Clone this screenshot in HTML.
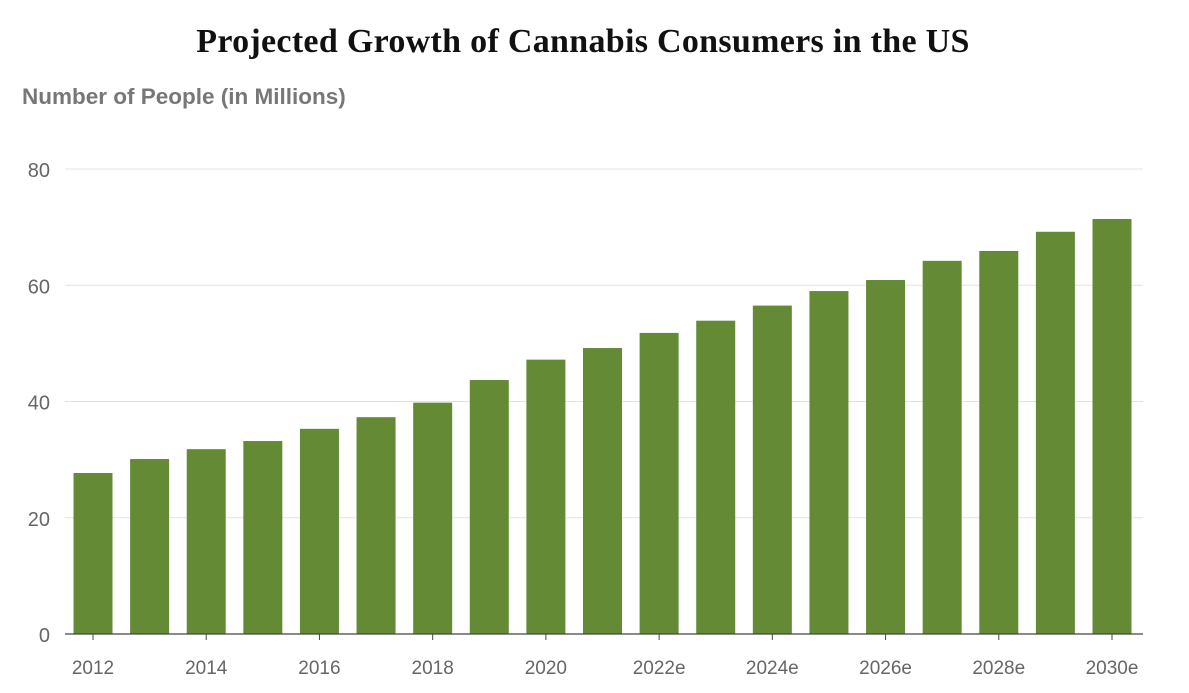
<!DOCTYPE html>
<html><head><meta charset="utf-8"><style>
body{margin:0;background:#fff;width:1189px;height:693px;overflow:hidden}
svg{display:block}
</style></head><body>
<svg id="chart" width="1189" height="693">
<text x="583" y="52" text-anchor="middle" font-family="Liberation Serif, serif" font-weight="bold" font-size="34" letter-spacing="0.3" fill="#111">Projected Growth of Cannabis Consumers in the US</text>
<text x="22" y="104" font-family="Liberation Sans, sans-serif" font-weight="bold" font-size="22.5" fill="#777">Number of People (in Millions)</text>
<g id="grid"></g><g id="bars"></g><g id="xaxis"></g>
</svg>
<script>
const categories=["2012","2013","2014","2015","2016","2017","2018","2019","2020","2021","2022e","2023e","2024e","2025e","2026e","2027e","2028e","2029e","2030e"];
const values=[27.7,30.1,31.8,33.2,35.3,37.3,39.8,43.7,47.2,49.2,51.8,53.9,56.5,59.0,60.9,64.2,65.9,69.2,71.4];
const yTicks=[0,20,40,60,80];
const xLabelEvery=2;
const ns="http://www.w3.org/2000/svg";
const y0=634,y80=169,x0=93,step=(1112-93)/18,bw=39;
const y=v=>y0-(y0-y80)*v/80;
const x=i=>x0+i*step;
function mk(t,a,p){const e=document.createElementNS(ns,t);for(const k in a)e.setAttribute(k,a[k]);p.appendChild(e);return e;}
const grid=document.getElementById('grid'),bars=document.getElementById('bars'),xa=document.getElementById('xaxis');
yTicks.forEach(v=>{
 if(v>0){const l=mk('line',{x1:65,x2:1143,y1:y(v),y2:y(v),stroke:'#e3e3e3','stroke-width':1},grid);
 
 }
 const t=mk('text',{x:50,y:y(v)+8,'text-anchor':'end','font-family':'Liberation Sans, sans-serif','font-size':20,fill:'#666'},grid);
 t.textContent=v;
 
 
});
values.forEach((v,i)=>{
 const r=mk('rect',{x:x(i)-bw/2,y:y(v),width:bw,height:y0-y(v),fill:'#648a36'},bars);
 
 
 if(i%xLabelEvery===0){
  mk('line',{x1:x(i),x2:x(i),y1:y0,y2:y0+6,stroke:'#444'},xa);
  const t=mk('text',{x:x(i),y:674,'text-anchor':'middle','font-family':'Liberation Sans, sans-serif','font-size':19,fill:'#666'},xa);
  t.textContent=categories[i];
  
  
 }
});
const ax=mk('line',{x1:65,x2:1143,y1:y0,y2:y0,stroke:'#444','stroke-width':1.2},xa);


</script>
</body></html>
